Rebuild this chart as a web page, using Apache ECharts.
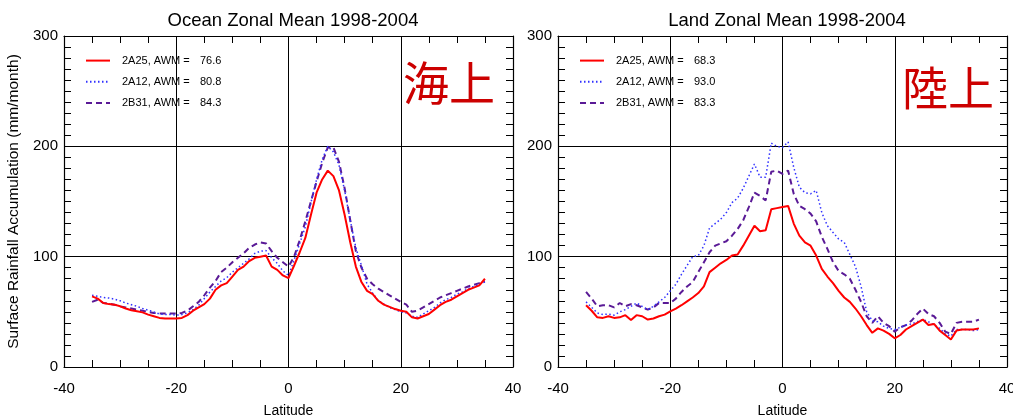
<!DOCTYPE html>
<html><head><meta charset="utf-8">
<script src="https://cdn.jsdelivr.net/npm/echarts@6/dist/echarts.min.js"></script>
<style>html,body{margin:0;padding:0;background:#fff}#c{width:1013px;height:416px}</style>
</head><body><div id="c"></div>
<script>
// Latitudes -35..35 step 1
const latitudes = [];
for (let l = -35; l <= 35; l++) latitudes.push(l);

const xTicks = [-40, -20, 0, 20, 40];
const yTicks = [0, 100, 200, 300];

const oceanTitle = "Ocean Zonal Mean 1998-2004";
const landTitle = "Land Zonal Mean 1998-2004";
const yAxisName = "Surface Rainfall Accumulation (mm/month)";
const xAxisName = "Latitude";

const products = ["2A25", "2A12", "2B31"];
const oceanAWM = ["76.6", "80.8", "84.3"];
const landAWM = ["68.3", "93.0", "83.3"];

const ocean2A25 = [64,62,58,57,56.5,55,53,51.5,50.5,49.5,47.5,46,44.5,44,44,44,44.5,47,51,54,57,62,70,74,76,82,88,91,96,99,100,101,91,88,83,
  80.5,92,104,117,138,158,170,178,173,160,138,113,91,77,69,66,60,56.5,54.5,52.5,51,50,45,44,46,48,52,56,59,61,64,67,70,72,74,80];
const ocean2A12 = [65,64,63,62.5,61.5,60,58,56.5,55,53,51.5,50,48,47.5,47.5,47,47.5,49,52,56,62,68,73,78,81,86,90,94,98,103,105,105.5,99,94,87,
  83,97,112,127,149,170,188,200,195,183,160,133,108,92,75,67,60,57,54,52,50,49,46,45,48,51,54,58,61,63,66,68,71,73,75,77];
const ocean2B31 = [59,61,58,57.5,56.5,55,54,53,52,51,50,49,48.5,48.5,48.5,48.5,49,51,55,59,65,72,78,86,90,95,99,103,108,111,113,112,105,99,95,
  91,100,115,132,150,168,185,199,199,186,162,133,105,90,80,75,71,68,65,62,59,56.5,50,51,54,57,60,63,65,67,69,71,73,74.5,76,77.5];

const land2A25 = [56,51,45,44.5,46,44.5,45,47,42.5,47,46,43,44,46,47.5,50.5,53,56,59.5,63,67,73,86,90,94,97,101,102,110,119,128,123,124,143,144,
  145,146,130,119,113,110,101,89,82,76,69,63,59,53,46,38,31,35,33,30,26,29,34,37,40,43,38,39,33,29,25,33,34,34,34,35];
const land2A12 = [59,54,49,47.5,48,47,50,52,55,58,55,52,55,59,63,69,75,84,92,100,101,110,126,130,134,140,149,153,162,173,184,172,172,203,200,
  199,204,181,163,158,157,160,140,128,122,116,113,102,91,73,50,42,41,37,35,34,36,38,39,41,43,41,38,35,30,28,34,34,34,33,34];
const land2B31 = [68,62,55,56,56,54,58,55,57,56,54,52,54,58,58,58,62,68,73,77,86,95,104,110,112,114,119,125,133,145,158,155,151,177,178,
  175,178,157,146,143,139,132,118,107,95,87,84,80,70,59,46,40,46,40,37,32,36,38,42,48,53,48,46,40,32,30,40,41,41,41,43];

const colors = ["#ff0000", "#3030ff", "#5a1a96"];
const lineTypes = ["solid", [1.5, 2.5], [6, 4]];
const widths = [2, 1.5, 2];

function pairs(v) { return latitudes.map((l, i) => [l, v[i]]); }

const FONT = "Liberation Sans";
const chart = echarts.init(document.getElementById('c'), null, {renderer: 'canvas'});

function xAx(gi, pos, show) {
  return {
    type: 'value', gridIndex: gi, position: pos, min: xTicks[0], max: xTicks[xTicks.length - 1], interval: 20,
    name: show ? xAxisName : '', nameLocation: 'middle', nameGap: 37,
    nameTextStyle: {fontFamily: FONT, fontSize: 14, color: '#000'},
    axisLine: {show: true, onZero: false, lineStyle: {color: '#000', width: 1.2}},
    axisTick: {show: true, inside: true, length: 7, lineStyle: {color: '#000'}},
    minorTick: {show: true, splitNumber: 4, length: 7, lineStyle: {color: '#000'}},
    axisLabel: {show: show, margin: 14, fontFamily: FONT, fontSize: 15, color: '#000'},
    splitLine: {show: show, lineStyle: {color: '#000', width: 1}},
    minorSplitLine: {show: false}
  };
}
function yAx(gi, pos, show, named) {
  return {
    type: 'value', gridIndex: gi, position: pos, min: yTicks[0], max: yTicks[yTicks.length - 1], interval: 100,
    name: named ? yAxisName : '', nameLocation: 'middle', nameGap: 42, nameRotate: 90,
    nameTextStyle: {fontFamily: FONT, fontSize: 15.5, color: '#000'},
    axisLine: {show: true, onZero: false, lineStyle: {color: '#000', width: 1.2}},
    axisTick: {show: true, inside: true, length: 7, lineStyle: {color: '#000'}},
    minorTick: {show: true, splitNumber: 10, length: 7, lineStyle: {color: '#000'}},
    axisLabel: {show: show, margin: 6, fontFamily: FONT, fontSize: 15, color: '#000'},
    splitLine: {show: show, lineStyle: {color: '#000', width: 1}},
    minorSplitLine: {show: false}
  };
}

const oceanData = [ocean2A25, ocean2A12, ocean2B31];
const landData = [land2A25, land2A12, land2B31];
const series = [];
const oceanNames = products.map((p, i) => p + ", AWM =|" + oceanAWM[i]);
const landNames = products.map((p, i) => p + ", AWM =|" + landAWM[i]);
// draw purple, blue, then red on top
[2, 1, 0].forEach(i => {
  series.push({type: 'line', name: oceanNames[i], xAxisIndex: 0, yAxisIndex: 0, data: pairs(oceanData[i]),
    symbol: 'none', showSymbol: false, animation: false,
    lineStyle: {color: colors[i], width: widths[i], type: lineTypes[i]}, itemStyle: {color: colors[i]}});
  series.push({type: 'line', name: landNames[i], xAxisIndex: 2, yAxisIndex: 2, data: pairs(landData[i]),
    symbol: 'none', showSymbol: false, animation: false,
    lineStyle: {color: colors[i], width: widths[i], type: lineTypes[i]}, itemStyle: {color: colors[i]}});
});

function legendCfg(names, left) {
  return {
    data: names, orient: 'vertical', left: left, top: 55, padding: 0, itemWidth: 24, itemHeight: 14, itemGap: 10,
    selectedMode: false,
    itemStyle: {opacity: 0},
    formatter: function (n) { const s = n.split('|'); return '{a|' + s[0] + '}{b|' + s[1] + '}'; },
    textStyle: {fontFamily: FONT, fontSize: 11, color: '#000',
      rich: {a: {fontFamily: FONT, fontSize: 11, width: 78, padding: [0, 0, 0, 7]}, b: {fontFamily: FONT, fontSize: 11}}}
  };
}

chart.setOption({
  animation: false,
  backgroundColor: '#fff',
  title: [
    {text: oceanTitle, left: 288, top: 6, textAlign: 'center', textStyle: {fontFamily: FONT, fontSize: 18.5, fontWeight: 'normal', color: '#000'}},
    {text: landTitle, left: 782, top: 6, textAlign: 'center', textStyle: {fontFamily: FONT, fontSize: 18.5, fontWeight: 'normal', color: '#000'}}
  ],
  grid: [
    {left: 64, right: 500, top: 36, bottom: 49, outerBoundsMode: 'none', containLabel: false},
    {left: 558, right: 6, top: 36, bottom: 49, outerBoundsMode: 'none', containLabel: false}
  ],
  xAxis: [xAx(0, 'bottom', true), xAx(0, 'top', false), xAx(1, 'bottom', true), xAx(1, 'top', false)],
  yAxis: [yAx(0, 'left', true, true), yAx(0, 'right', false, false), yAx(1, 'left', true, false), yAx(1, 'right', false, false)],
  legend: [legendCfg(oceanNames, 85), legendCfg(landNames, 579)],
  graphic: [
    {type: 'text', left: 403, top: 60, style: {text: '海上', fill: '#cc0000', font: '46px "Noto Sans CJK JP"'}},
    {type: 'text', left: 902, top: 65, style: {text: '陸上', fill: '#cc0000', font: '46px "Noto Sans CJK JP"'}}
  ],
  series: series
});
</script></body></html>
